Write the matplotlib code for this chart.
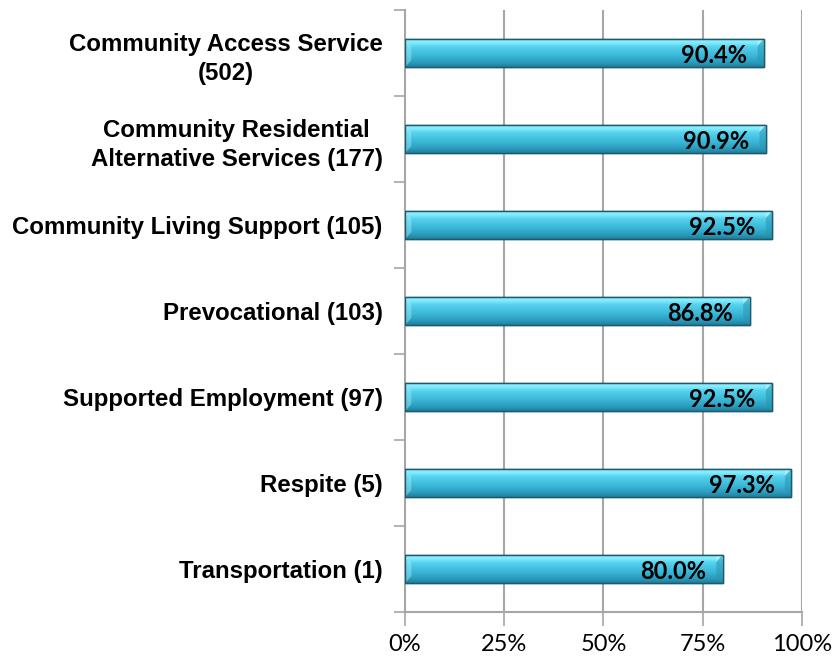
import matplotlib
matplotlib.use('Agg')
import matplotlib.pyplot as plt
from matplotlib.colors import LinearSegmentedColormap
from matplotlib.patches import Polygon
import numpy as np

categories = [
    'Community Access Service\n(502)',
    'Community Residential\nAlternative Services (177)',
    'Community Living Support (105)',
    'Prevocational (103)',
    'Supported Employment (97)',
    'Respite (5)',
    'Transportation (1)',
]
values = [90.4, 90.9, 92.5, 86.8, 92.5, 97.3, 80.0]
xticks = [0, 25, 50, 75, 100]
xtick_labels = ['0%', '25%', '50%', '75%', '100%']

GRID = '#a6a6a6'
EDGE = '#1d5a6c'

fig = plt.figure(figsize=(8.34, 6.59), dpi=100)
ax = fig.add_axes([0.4856, 0.0713, 0.4760, 0.9135])

y = np.arange(len(categories))
bar_h = 0.33
bars = ax.barh(y, values, height=bar_h, color='#3fbfdc', edgecolor=EDGE,
               linewidth=1.0, zorder=3)

# vertical shading for a cylinder-like look
shade = LinearSegmentedColormap.from_list('shade', [
    (0.0, '#6fdcf2'), (0.12, '#8cf0ff'), (0.3, '#55d2ee'),
    (0.6, '#3cb8d8'), (0.85, '#2a9cbd'), (1.0, '#1f7f9b')])
grad = np.linspace(0, 1, 64).reshape(-1, 1)
for b in bars:
    x0, y0 = b.get_x(), b.get_y()
    w, h = b.get_width(), b.get_height()
    im = ax.imshow(grad, cmap=shade, aspect='auto', extent=(x0, x0 + w, y0 + h, y0),
                   zorder=3.5, interpolation='bicubic')
    im.set_clip_path(b)
    # bevelled ends
    bev = 1.6
    ax.add_patch(Polygon([(x0 + w, y0), (x0 + w - bev, y0 + h * 0.25),
                          (x0 + w - bev, y0 + h * 0.75), (x0 + w, y0 + h)],
                         closed=True, facecolor='#2a94b3', edgecolor='none',
                         alpha=0.55, zorder=3.6))
    ax.add_patch(Polygon([(x0 + w, y0), (x0 + w - bev, y0 + h * 0.25),
                          (x0 + w - bev, y0 + h * 0.0)],
                         closed=True, facecolor='#b8f6ff', edgecolor='none',
                         alpha=0.6, zorder=3.6))
    ax.add_patch(Polygon([(x0, y0), (x0 + bev, y0 + h * 0.25),
                          (x0 + bev, y0 + h * 0.75), (x0, y0 + h)],
                         closed=True, facecolor='#9eeefc', edgecolor='none',
                         alpha=0.45, zorder=3.6))
    ax.add_patch(Polygon([(x0, y0), (x0 + w, y0), (x0 + w, y0 + h), (x0, y0 + h)],
                         closed=True, facecolor='none', edgecolor=EDGE,
                         linewidth=1.0, zorder=3.8))
    ax.text(x0 + w - 4.2, y0 + h / 2 + 0.03, f'{w:.1f}%', ha='right', va='center',
            fontsize=17, fontweight='bold', family='Lato', color='black', zorder=4)

ax.set_xlim(0, 100)
ax.set_ylim(len(categories) - 0.5, -0.5)
ax.set_xticks(xticks)
ax.set_xticklabels(xtick_labels, family='Lato', fontsize=17)
ax.set_yticks(y)
ax.set_yticklabels(categories, fontsize=17.3, fontweight='bold',
                   family='Liberation Sans', ha='right', multialignment='center',
                   linespacing=1.35)
ax.set_yticks(np.arange(len(categories) + 1) - 0.5, minor=True)

ax.tick_params(axis='y', which='major', length=0, pad=16)
ax.tick_params(axis='y', which='minor', length=8, width=1.2, color=GRID)
ax.tick_params(axis='x', length=10, width=1.2, color=GRID, pad=6)

for x in xticks[1:]:
    ax.axvline(x, color=GRID, linewidth=1.5, zorder=1)

for side in ('top', 'right'):
    ax.spines[side].set_visible(False)
for side in ('left', 'bottom'):
    ax.spines[side].set_color(GRID)
    ax.spines[side].set_linewidth(1.5)

fig.savefig('out.png', dpi=100)
